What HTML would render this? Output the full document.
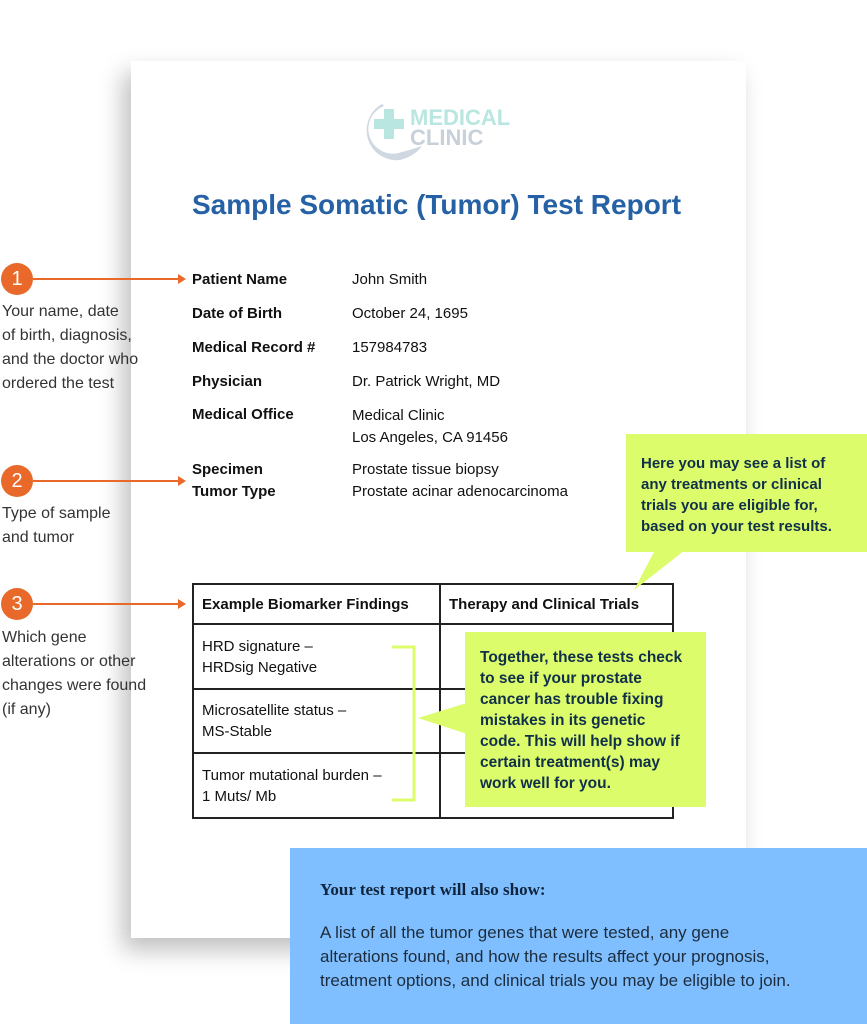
<!DOCTYPE html>
<html><head><style>
body{margin:0;width:867px;height:1024px;position:relative;background:#fff;font-family:"Liberation Sans",sans-serif;overflow:hidden;color:#111}
.a{position:absolute}
.card{left:131px;top:61px;width:615px;height:877px;background:#fff;box-shadow:-8px 12px 22px rgba(0,0,0,.25)}
.num{width:32px;height:32px;border-radius:50%;background:#e8692a;color:#fff;font-size:20px;text-align:center;line-height:32px}
.ln{height:2px;background:#e8692a}
.ah{width:0;height:0;border-left:8px solid #e8692a;border-top:5px solid transparent;border-bottom:5px solid transparent}
.side{font-size:16px;line-height:24px;color:#333}
.lab{font-size:15px;font-weight:bold}
.val{font-size:15px}
table{border-collapse:collapse;font-size:15px;line-height:21px}
td{border:2px solid #222;padding:0 8px;vertical-align:middle}
.g{background:#ddfc6c;color:#10304a;font-weight:bold;font-size:15px;line-height:21px;white-space:nowrap}
</style></head><body>
<div class="a card"></div>
<svg class="a" style="left:360px;top:98px" width="155" height="65">
<path d="M22 6 A30 30 0 0 0 40 62 Q55 58 62 48 Q50 52 42 54 A24 24 0 0 1 24 8Z" fill="#cfd7e0"/>
<rect x="24" y="11" width="10" height="30" fill="#b9e6e0"/><rect x="14" y="21" width="30" height="10" fill="#b9e6e0"/>
<text x="50" y="27" font-family="Liberation Sans" font-weight="bold" font-size="22" fill="#b9e6e0">MEDICAL</text>
<text x="50" y="47" font-family="Liberation Sans" font-weight="bold" font-size="22" fill="#c8d0da">CLINIC</text>
</svg>
<div class="a" style="left:192px;top:189px;font-size:28px;font-weight:bold;color:#2561a4">Sample Somatic (Tumor) Test Report</div>

<div class="a num" style="left:1px;top:263px">1</div>
<div class="a ln" style="left:33px;top:278px;width:147px"></div><div class="a ah" style="left:178px;top:274px"></div>
<div class="a side" style="left:2px;top:300px">Your name, date<br>of birth, diagnosis,<br>and the doctor who<br>ordered the test</div>
<div class="a num" style="left:1px;top:465px">2</div>
<div class="a ln" style="left:33px;top:480px;width:147px"></div><div class="a ah" style="left:178px;top:476px"></div>
<div class="a side" style="left:2px;top:502px">Type of sample<br>and tumor</div>
<div class="a num" style="left:1px;top:588px">3</div>
<div class="a ln" style="left:33px;top:603px;width:147px"></div><div class="a ah" style="left:178px;top:599px"></div>
<div class="a side" style="left:2px;top:626px">Which gene<br>alterations or other<br>changes were found<br>(if any)</div>

<div class="a lab" style="left:192px;top:271px">Patient Name</div><div class="a val" style="left:352px;top:271px">John Smith</div>
<div class="a lab" style="left:192px;top:305px">Date of Birth</div><div class="a val" style="left:352px;top:305px">October 24, 1695</div>
<div class="a lab" style="left:192px;top:339px">Medical Record #</div><div class="a val" style="left:352px;top:339px">157984783</div>
<div class="a lab" style="left:192px;top:373px">Physician</div><div class="a val" style="left:352px;top:373px">Dr. Patrick Wright, MD</div>
<div class="a lab" style="left:192px;top:406px">Medical Office</div><div class="a val" style="left:352px;line-height:22px;top:405px">Medical Clinic<br>Los Angeles, CA 91456</div>
<div class="a lab" style="left:192px;top:459px;line-height:22px">Specimen<br>Tumor Type</div><div class="a val" style="left:352px;top:459px;line-height:22px">Prostate tissue biopsy<br>Prostate acinar adenocarcinoma</div>

<table class="a" style="left:192px;top:583px;width:482px">
<tr style="height:40px"><td style="width:229px;font-weight:bold">Example Biomarker Findings</td><td style="font-weight:bold">Therapy and Clinical Trials</td></tr>
<tr style="height:65px"><td>HRD signature –<br>HRDsig Negative</td><td></td></tr>
<tr style="height:64px"><td>Microsatellite status –<br>MS-Stable</td><td></td></tr>
<tr style="height:65px"><td>Tumor mutational burden –<br>1 Muts/ Mb</td><td></td></tr>
</table>
<svg class="a" style="left:0;top:0" width="867" height="1024">
<path d="M392 647 H414 V800 H392" fill="none" stroke="#ddfc6c" stroke-width="3"/>
<polygon points="418,718 470,702 470,735" fill="#ddfc6c"/>
<polygon points="634,590 655,550 685,550" fill="#ddfc6c"/>
</svg>
<div class="a g" style="left:626px;top:434px;width:241px;height:118px;box-sizing:border-box;padding:19px 0 0 15px">Here you may see a list of<br>any treatments or clinical<br>trials you are eligible for,<br>based on your test results.</div>
<div class="a g" style="left:465px;top:632px;width:241px;height:175px;box-sizing:border-box;padding:15px 0 0 15px;font-size:15.5px">Together, these tests check<br>to see if your prostate<br>cancer has trouble fixing<br>mistakes in its genetic<br>code. This will help show if<br>certain treatment(s) may<br>work well for you.</div>

<div class="a" style="left:290px;top:848px;width:577px;height:176px;background:#80bfff"></div>
<div class="a" style="left:320px;top:880px;font-family:'Liberation Serif',serif;font-weight:bold;font-size:17px;color:#10253d">Your test report will also show:</div>
<div class="a" style="left:320px;top:921px;white-space:nowrap;font-size:17px;line-height:24px;color:#1c2c3c">A list of all the tumor genes that were tested, any gene<br>alterations found, and how the results affect your prognosis,<br>treatment options, and clinical trials you may be eligible to join.</div>
</body></html>
